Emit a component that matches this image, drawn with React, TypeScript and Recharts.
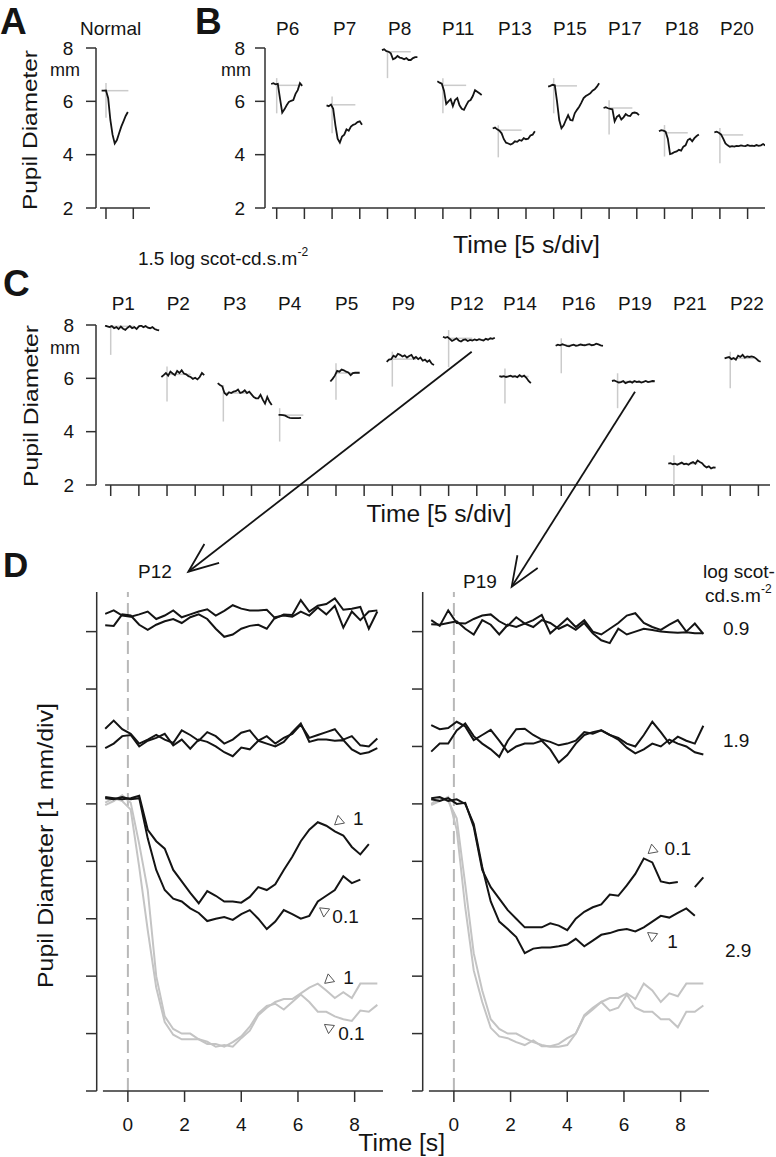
import React from 'react';
import { LineChart, Line, XAxis, YAxis, ReferenceLine, ReferenceDot } from 'recharts';

const FONT = "'Liberation Sans', Arial, Helvetica, sans-serif";
const INK = '#141414';
const AXIS = '#303030';
const GREY = '#c4c4c4';
const BAR_GREY = '#cbcbcb';

// ---- Panel A: normal subject, one sample every 0.4 s from -0.8 s
const A_TRACE = [6.40, 6.40, 6.41, 6.12, 5.30, 4.75, 4.42, 4.55, 4.80, 5.05, 5.25, 5.45, 5.60];
const A_BASE = [6.4];
const A_BAR_TOP = [6.69];
const A_BAR_BOTTOM = [5.38];

// ---- Panel B: one sample every 0.4 s from -1 s, one 10 s slot per patient
const B_LABELS = ['P6', 'P7', 'P8', 'P11', 'P13', 'P15', 'P17', 'P18', 'P20'];
const B_P6 = [6.65, 6.68, 6.64, 6.66, 6.10, 5.58, 5.70, 5.85, 5.98, 6.02, 6.05, 6.28, 6.42, 6.68, 6.58];
const B_P7 = [5.85, 5.82, 5.88, 5.72, 5.10, 4.60, 4.45, 4.68, 4.75, 4.95, 4.90, 5.05, 5.12, 5.15, 5.22, 5.25, 5.12];
const B_P8 = [7.92, 7.95, 7.88, 7.86, 7.80, 7.58, 7.62, 7.70, 7.64, 7.62, 7.58, 7.62, 7.55, 7.55, 7.62, 7.66, 7.66];
const B_P11 = [6.75, 6.70, 6.66, 6.40, 5.90, 6.00, 6.08, 5.82, 6.05, 6.12, 5.85, 5.72, 5.68, 5.85, 6.00, 6.05, 6.20, 6.42, 6.36, 6.30, 6.24];
const B_P13 = [4.98, 5.02, 4.95, 4.90, 4.80, 4.58, 4.45, 4.42, 4.38, 4.42, 4.50, 4.48, 4.55, 4.52, 4.62, 4.58, 4.60, 4.72, 4.75, 4.88];
const B_P15 = [6.55, 6.58, 6.62, 6.60, 6.00, 5.30, 4.99, 5.10, 5.30, 5.48, 5.30, 5.28, 5.55, 5.68, 5.80, 5.95, 6.12, 6.20, 6.25, 6.30, 6.40, 6.45, 6.55, 6.68];
const B_P17 = [5.75, 5.78, 5.74, 5.72, 5.70, 5.25, 5.42, 5.48, 5.32, 5.40, 5.52, 5.46, 5.45, 5.56, 5.58, 5.56, 5.48];
const B_P18 = [4.88, 4.92, 4.90, 4.86, 4.60, 4.02, 4.05, 4.10, 4.12, 4.18, 4.15, 4.30, 4.35, 4.55, 4.60, 4.50, 4.62, 4.70, 4.76];
const B_P20 = [4.84, 4.86, 4.82, 4.76, 4.60, 4.42, 4.35, 4.30, 4.32, 4.30, 4.33, 4.32, 4.35, 4.33, 4.32, 4.36, 4.33, 4.34, 4.32, 4.36, 4.33, 4.35, 4.40, 4.34];
const B_TRACES = [B_P6, B_P7, B_P8, B_P11, B_P13, B_P15, B_P17, B_P18, B_P20];
const B_BASE = [6.6, 5.87, 7.86, 6.6, 4.92, 6.58, 5.75, 4.82, 4.74];
const B_BAR_TOP = [6.87, 6.18, 7.9, 6.87, 5.1, 6.87, 6.04, 5.11, 5.0];
const B_BAR_BOTTOM = [5.55, 4.8, 6.87, 5.55, 3.9, 5.55, 4.76, 3.93, 3.68];

// ---- Panel C: same sampling
const C_LABELS = ['P1', 'P2', 'P3', 'P4', 'P5', 'P9', 'P12', 'P14', 'P16', 'P19', 'P21', 'P22'];
const C_P1 = [7.98, 7.95, 7.92, 7.96, 7.88, 7.92, 7.85, 7.94, 7.86, 7.82, 7.90, 7.96, 7.88, 7.92, 7.85, 7.95, 7.98, 7.92, 7.96, 7.90, 7.88, 7.92, 7.85, 7.82, 7.80];
const C_P2 = [6.05, 6.12, 6.20, 6.10, 6.25, 6.18, 6.12, 6.28, 6.20, 6.30, 6.18, 6.15, 6.08, 6.05, 5.98, 6.02, 5.96, 6.05, 6.20, 6.12];
const C_P3 = [5.82, 5.75, 5.70, 5.45, 5.38, 5.48, 5.45, 5.50, 5.52, 5.58, 5.45, 5.48, 5.55, 5.45, 5.50, 5.40, 5.30, 5.25, 5.25, 5.38, 5.20, 5.05, 5.30, 5.12, 5.00];
const C_P4 = [null, null, 4.63, 4.63, 4.62, 4.60, 4.55, 4.52, 4.51, 4.51, 4.51, 4.51, 4.52];
const C_P5 = [5.88, 5.98, 6.10, 6.28, 6.25, 6.33, 6.30, 6.25, 6.22, 6.12, 6.20, 6.21, 6.21, 6.21];
const C_P9 = [6.62, 6.70, 6.72, 6.85, 6.80, 6.92, 6.88, 6.82, 6.86, 6.78, 6.84, 6.88, 6.74, 6.80, 6.72, 6.78, 6.66, 6.70, 6.62, 6.68, 6.55, 6.50];
const C_P12 = [7.56, 7.52, 7.55, 7.48, 7.40, 7.45, 7.50, 7.42, 7.38, 7.44, 7.46, 7.40, 7.44, 7.42, 7.46, 7.43, 7.47, 7.44, 7.42, 7.48, 7.45, 7.50, 7.48, 7.52];
const C_P14 = [6.08, 6.06, 6.08, 6.05, 6.07, 6.10, 6.06, 6.08, 6.04, 6.12, 6.06, 6.10, 6.02, 5.90, 5.82];
const C_P16 = [7.22, 7.26, 7.24, 7.28, 7.25, 7.22, 7.20, 7.24, 7.26, 7.22, 7.24, 7.27, 7.25, 7.24, 7.26, 7.28, 7.24, 7.25, 7.30, 7.27, 7.24, 7.22];
const C_P19 = [5.90, 5.92, 5.88, 5.84, 5.86, 5.90, 5.82, 5.86, 5.88, 5.84, 5.90, 5.86, 5.88, 5.84, 5.87, 5.90, 5.86, 5.88, 5.90, 5.89];
const C_P21 = [2.80, 2.82, 2.78, 2.80, 2.76, 2.80, 2.84, 2.78, 2.80, 2.76, 2.82, 2.86, 2.80, 2.92, 2.86, 2.82, 2.72, 2.66, 2.70, 2.62, 2.66, 2.65];
const C_P22 = [6.75, 6.78, 6.80, 6.72, 6.76, 6.70, 6.85, 6.80, 6.88, 6.78, 6.82, 6.80, 6.82, 6.80, 6.74, 6.66, 6.62];
const C_TRACES = [C_P1, C_P2, C_P3, C_P4, C_P5, C_P9, C_P12, C_P14, C_P16, C_P19, C_P21, C_P22];
const C_BASE = [7.95, 6.15, 5.45, 4.62, 6.2, 6.72, 7.5, 6.07, 7.24, 5.88, 2.8, 6.75];
const C_BAR_TOP = [8.0, 6.44, 5.75, 4.88, 6.57, 7.0, 7.81, 6.37, 7.5, 6.19, 3.12, 7.0];
const C_BAR_BOTTOM = [6.88, 5.13, 4.38, 3.63, 5.2, 5.69, 6.42, 5.06, 6.19, 4.88, 2.0, 5.63];

// ---- Panel D: time base (s) and traces (mm, 1 mm per division)
const D_TIME = [-0.8, -0.5, -0.2, 0.1, 0.4, 0.7, 1.0, 1.3, 1.6, 1.9, 2.2, 2.5, 2.8, 3.1, 3.4, 3.7, 4.0, 4.3, 4.6, 4.9, 5.2, 5.5, 5.8, 6.1, 6.4, 6.7, 7.0, 7.3, 7.6, 7.9, 8.2, 8.5, 8.8];

const P12_09A = [8.31, 8.37, 8.28, 8.26, 8.30, 8.35, 8.22, 8.28, 8.37, 8.25, 8.30, 8.35, 8.39, 8.28, 8.36, 8.46, 8.40, 8.37, 8.37, 8.38, 8.23, 8.30, 8.29, 8.55, 8.35, 8.45, 8.48, 8.58, 8.38, 8.40, 8.43, 8.05, 8.35];
const P12_09B = [8.11, 8.10, 8.30, 8.28, 8.12, 8.03, 8.12, 8.18, 8.22, 8.15, 8.25, 8.30, 8.22, 8.05, 7.91, 7.95, 8.05, 8.10, 8.12, 8.05, 8.25, 8.28, 8.26, 8.35, 8.28, 8.42, 8.30, 8.45, 8.07, 8.35, 8.20, 8.35, 8.37];
const P12_19A = [6.31, 6.45, 6.30, 6.22, 6.05, 6.12, 6.20, 6.12, 6.06, 6.28, 6.20, 6.10, 6.25, 6.18, 6.05, 6.12, 6.24, 6.28, 6.10, 6.18, 6.05, 6.15, 6.22, 6.38, 6.15, 6.20, 6.25, 6.30, 6.12, 6.18, 6.02, 6.00, 6.14];
const P12_19B = [5.97, 6.05, 6.18, 6.20, 6.00, 6.10, 6.15, 6.22, 6.02, 6.12, 5.96, 6.12, 6.08, 6.00, 5.90, 5.83, 5.98, 5.95, 6.10, 6.05, 6.00, 6.08, 6.25, 6.40, 6.08, 6.12, 6.12, 6.10, 6.11, 5.95, 5.87, 5.90, 5.97];
const P12_29_1 = [5.12, 5.10, 5.08, 5.10, 5.14, 4.55, 4.35, 4.22, 3.85, 3.65, 3.45, 3.27, 3.48, 3.40, 3.30, 3.30, 3.28, 3.38, 3.55, 3.50, 3.60, 3.85, 4.08, 4.35, 4.55, 4.68, 4.62, 4.52, 4.45, 4.25, 4.12, 4.30, null];
const P12_29_01 = [5.10, 5.08, 5.12, 5.08, 5.10, 4.40, 3.85, 3.50, 3.35, 3.30, 3.18, 3.10, 2.96, 3.00, 3.03, 2.98, 3.08, 3.15, 3.00, 2.82, 2.95, 3.15, 3.08, 3.00, 3.05, 3.30, 3.40, 3.50, 3.74, 3.62, 3.68, null, null];
const P12_GREY_1 = [4.98, 5.05, 5.15, 5.02, 4.30, 3.50, 2.00, 1.30, 1.08, 1.00, 1.00, 0.90, 0.86, 0.77, 0.80, 0.77, 0.92, 1.05, 1.32, 1.45, 1.55, 1.60, 1.60, 1.70, 1.80, 1.87, 1.75, 1.62, 1.72, 1.62, 1.87, 1.87, 1.87];
const P12_GREY_01 = [5.02, 5.10, 5.05, 4.90, 3.90, 2.80, 1.80, 1.20, 0.98, 0.90, 0.90, 0.90, 0.82, 0.82, 0.77, 0.85, 0.95, 1.12, 1.35, 1.48, 1.52, 1.42, 1.55, 1.68, 1.55, 1.38, 1.38, 1.30, 1.25, 1.22, 1.40, 1.38, 1.50];

const P19_09A = [8.20, 8.10, 8.37, 8.15, 8.14, 8.22, 8.28, 8.30, 8.18, 8.10, 8.25, 8.14, 8.20, 8.29, 7.97, 8.10, 8.23, 8.08, 8.20, 8.00, 7.95, 8.05, 8.15, 8.28, 8.32, 8.15, 8.08, 8.03, 8.12, 8.20, 8.00, 8.14, 7.96];
const P19_09B = [8.13, 8.12, 8.15, 8.18, 8.05, 7.95, 8.20, 8.12, 7.95, 8.12, 8.08, 8.14, 8.08, 8.20, 8.15, 8.05, 8.12, 8.03, 8.15, 7.97, 7.85, 7.80, 8.05, 7.95, 8.00, 8.05, 8.03, 8.00, 7.99, 7.98, 7.99, 7.97, 7.97];
const P19_19A = [6.37, 6.30, 6.32, 6.43, 6.35, 6.11, 6.20, 6.29, 6.10, 5.90, 6.00, 6.05, 6.05, 6.10, 5.95, 5.72, 5.85, 6.05, 6.20, 6.25, 6.28, 6.20, 6.15, 6.05, 6.00, 6.20, 6.43, 6.25, 6.05, 6.17, 6.10, 6.05, 6.36];
const P19_19B = [5.91, 6.05, 6.05, 6.28, 6.40, 6.18, 6.05, 5.95, 5.82, 6.10, 6.30, 6.31, 6.20, 6.12, 6.08, 6.02, 6.05, 6.10, 6.25, 6.22, 6.28, 6.20, 6.12, 5.98, 5.88, 5.95, 6.05, 6.00, 6.12, 6.05, 6.00, 5.90, 5.86];
const P19_29_01 = [5.08, 5.05, 5.10, 5.00, 5.02, 4.60, 3.85, 3.55, 3.35, 3.15, 3.00, 2.85, 2.85, 2.85, 2.92, 2.88, 2.80, 3.00, 3.12, 3.20, 3.25, 3.42, 3.40, 3.58, 3.78, 4.05, 3.98, 3.65, 3.62, 3.64, null, 3.55, 3.72];
const P19_29_1 = [5.10, 5.12, 5.05, 5.08, 5.00, 4.65, 3.90, 3.30, 2.95, 2.82, 2.68, 2.40, 2.48, 2.50, 2.50, 2.52, 2.55, 2.65, 2.52, 2.62, 2.72, 2.75, 2.80, 2.82, 2.78, 2.85, 2.95, 3.05, 3.02, 3.10, 3.18, 3.05, null];
const P19_GREY_A = [5.00, 5.10, 5.05, 4.75, 3.60, 2.40, 1.75, 1.25, 1.08, 1.00, 1.00, 0.92, 0.85, 0.80, 0.77, 0.77, 0.80, 1.00, 1.32, 1.45, 1.55, 1.62, 1.62, 1.70, 1.60, 1.87, 1.75, 1.55, 1.70, 1.65, 1.87, 1.87, 1.87];
const P19_GREY_B = [4.98, 5.05, 5.12, 4.55, 3.20, 2.10, 1.55, 1.10, 0.95, 0.92, 0.85, 0.80, 0.88, 0.78, 0.78, 0.82, 0.92, 1.00, 1.30, 1.42, 1.55, 1.40, 1.45, 1.68, 1.45, 1.38, 1.38, 1.25, 1.25, 1.11, 1.38, 1.38, 1.49];

const D_LEFT = [
  { vals: P12_GREY_1, color: GREY },
  { vals: P12_GREY_01, color: GREY },
  { vals: P12_09A, color: INK },
  { vals: P12_09B, color: INK },
  { vals: P12_19A, color: INK },
  { vals: P12_19B, color: INK },
  { vals: P12_29_1, color: INK },
  { vals: P12_29_01, color: INK },
];
const D_RIGHT = [
  { vals: P19_GREY_A, color: GREY },
  { vals: P19_GREY_B, color: GREY },
  { vals: P19_09A, color: INK },
  { vals: P19_09B, color: INK },
  { vals: P19_19A, color: INK },
  { vals: P19_19B, color: INK },
  { vals: P19_29_01, color: INK },
  { vals: P19_29_1, color: INK },
];

// flash-intensity markers (log scot-cd.s.m-2) next to the 2.9 traces
const NOTES_LEFT = [
  { t: 7.45, v: 4.70, label: '1', up: true, dx: 14, dy: 4 },
  { t: 6.93, v: 3.13, label: '0.1', up: false, dx: 8, dy: 12 },
  { t: 7.1, v: 1.94, label: '1', up: true, dx: 14, dy: 4 },
  { t: 7.1, v: 1.1, label: '0.1', up: false, dx: 9, dy: 12 },
];
const NOTES_RIGHT = [
  { t: 7.01, v: 4.20, label: '0.1', up: true, dx: 12, dy: 5 },
  { t: 7.0, v: 2.70, label: '1', up: false, dx: 15, dy: 12 },
];

const STEP = 0.4;
const toRows = (vals: (number | null)[], start: number, offset: number) =>
  vals.map((v, i) => ({ t: Math.round((offset + start + i * STEP) * 100) / 100, v }));

const barRows = (base: number[], top: number[], bottom: number[], len: number) => {
  const out: { t: number; v: number }[][] = [];
  base.forEach((b, i) => {
    const off = i * 10;
    out.push([{ t: off, v: top[i] }, { t: off, v: bottom[i] }]);
    out.push([{ t: off, v: b }, { t: off + len, v: b }]);
  });
  return out;
};

const axisStroke = { stroke: AXIS, strokeWidth: 1.5 };

const YTick = (p: any) => (
  <text x={p.x} y={p.y} dy="0.355em" textAnchor="end" fontSize={19} fontFamily={FONT} fill={INK}>
    {p.payload.value}
  </text>
);
const XTick = (p: any) => (
  <text x={p.x} y={p.y} dy="0.71em" textAnchor="middle" fontSize={19} fontFamily={FONT} fill={INK}>
    {p.payload.value}
  </text>
);
const NoTick = () => <g />;

function StripChart({ left, top, width, yWidth, right, xDomain, xTicks, axisFrom, traces, bars, tickMargin }: any) {
  return (
    <div style={{ position: 'absolute', left, top }}>
      <LineChart width={width} height={240} margin={{ top: 48, right, bottom: 2, left: 0 }}>
        <XAxis type="number" dataKey="t" domain={xDomain} ticks={xTicks} allowDataOverflow interval={0}
          axisLine={false} tickSize={11} tickLine={axisStroke} tick={NoTick} height={30} />
        <YAxis type="number" domain={[2, 8]} ticks={[2, 4, 6, 8]} allowDataOverflow interval={0}
          width={yWidth} tickSize={10} tickMargin={tickMargin} axisLine={axisStroke} tickLine={axisStroke}
          tick={YTick} />
        <ReferenceLine segment={[{ x: axisFrom, y: 2 }, { x: xDomain[1], y: 2 }]} stroke={AXIS} strokeWidth={1.5} ifOverflow="visible" />
        {bars.map((rows: any, i: number) => (
          <Line key={'bar' + i} data={rows} dataKey="v" type="linear" dot={false} activeDot={false}
            stroke={BAR_GREY} strokeWidth={1.5} isAnimationActive={false} />
        ))}
        {traces.map((rows: any, i: number) => (
          <Line key={'tr' + i} data={rows} dataKey="v" type="linear" dot={false} activeDot={false}
            stroke={INK} strokeWidth={1.8} isAnimationActive={false} />
        ))}
      </LineChart>
    </div>
  );
}

function Marker({ cx, cy, up, label, dx, dy }: any) {
  if (cx == null || cy == null) return null;
  const angles = up ? [-100, 20, 140] : [96, 216, -24];
  const r = 5.8;
  const pts = angles
    .map((d) => {
      const a = (d * Math.PI) / 180;
      return `${cx + r * Math.cos(a)},${cy + r * Math.sin(a)}`;
    })
    .join(' ');
  return (
    <g>
      <polygon points={pts} fill="#fff" stroke="#555" strokeWidth={1} />
      <text x={cx + dx} y={cy + dy} fontSize={19} fontFamily={FONT} fill={INK}>{label}</text>
    </g>
  );
}

function DetailChart({ left, series, notes }: any) {
  return (
    <div style={{ position: 'absolute', left, top: 560 }}>
      <LineChart width={383} height={581} margin={{ top: 32, right: 0, bottom: 0, left: 0 }}>
        <XAxis type="number" dataKey="t" domain={[-1.1, 9]} ticks={[0, 2, 4, 6, 8]} allowDataOverflow interval={0}
          axisLine={false} tickSize={11} tickMargin={16} height={50} tickLine={axisStroke} tick={XTick} />
        <YAxis type="number" domain={[0, 8.69]} ticks={[0, 1, 2, 3, 4, 5, 6, 7, 8]} allowDataOverflow interval={0}
          width={96.7} tickSize={10.7} axisLine={axisStroke} tickLine={axisStroke} tick={NoTick} />
        <ReferenceLine x={0} stroke="#b8b8b8" strokeWidth={2} strokeDasharray="13 6" />
        <ReferenceLine segment={[{ x: -0.88, y: 0 }, { x: 9, y: 0 }]} stroke={AXIS} strokeWidth={1.5} ifOverflow="visible" />
        {series.map((s: any, i: number) => (
          <Line key={'d' + i} data={s.vals.map((v: number | null, j: number) => ({ t: D_TIME[j], v }))}
            dataKey="v" type="linear" dot={false} activeDot={false} stroke={s.color} strokeWidth={2}
            isAnimationActive={false} />
        ))}
        {notes.map((n: any, i: number) => (
          <ReferenceDot key={'n' + i} x={n.t} y={n.v} r={0} ifOverflow="visible"
            shape={(p: any) => <Marker cx={p.cx} cy={p.cy} up={n.up} label={n.label} dx={n.dx} dy={n.dy} />} />
        ))}
      </LineChart>
    </div>
  );
}

const B_LABEL_X = [276, 333, 388, 442, 498, 553, 608, 665, 720];
const C_LABEL_X = [111.7, 166.7, 223, 278, 335, 391.7, 450, 503, 561.7, 618, 673, 730];

function arrow(x1: number, y1: number, x2: number, y2: number) {
  const len = Math.hypot(x2 - x1, y2 - y1);
  const bx = (x1 - x2) / len, by = (y1 - y2) / len;
  const rot = (ang: number) => {
    const a = (ang * Math.PI) / 180;
    return [x2 + 32 * (bx * Math.cos(a) - by * Math.sin(a)), y2 + 32 * (bx * Math.sin(a) + by * Math.cos(a))];
  };
  const p1 = rot(22), p2 = rot(-22);
  return (
    <g stroke={INK} strokeWidth={1.8} fill="none">
      <line x1={x1} y1={y1} x2={x2} y2={y2} />
      <polyline points={`${p1[0]},${p1[1]} ${x2},${y2} ${p2[0]},${p2[1]}`} />
    </g>
  );
}

export default function App() {
  const aTraces = [toRows(A_TRACE, -0.8, 0)];
  const aBars = barRows(A_BASE, A_BAR_TOP, A_BAR_BOTTOM, 4.1);
  const bTraces = B_TRACES.map((vals, i) => toRows(vals, -1, i * 10));
  const bBars = barRows(B_BASE, B_BAR_TOP, B_BAR_BOTTOM, 4.2);
  const cTraces = C_TRACES.map((vals, i) => toRows(vals, -1, i * 10));
  const cBars = barRows(C_BASE, C_BAR_TOP, C_BAR_BOTTOM, 4.2);

  return (
    <div style={{ position: 'absolute', left: 0, top: 0, width: 776, height: 1157, background: '#fff', fontFamily: FONT }}>
      <StripChart left={0} top={0} width={160} yWidth={96} right={10} xDomain={[-1.83, 8.06]} xTicks={[0, 5]}
        axisFrom={-1.1} traces={aTraces} bars={aBars} tickMargin={12.7} />
      <StripChart left={200} top={0} width={576} yWidth={65} right={11} xDomain={[-2.11, 88.14]}
        xTicks={[0, 5, 10, 15, 20, 25, 30, 35, 40, 45, 50, 55, 60, 65, 70, 75, 80, 85]}
        axisFrom={-0.85} traces={bTraces} bars={bBars} tickMargin={10} />
      <StripChart left={0} top={277} width={776} yWidth={96} right={6} xDomain={[-2.61, 117.06]}
        xTicks={[0, 5, 10, 15, 20, 25, 30, 35, 40, 45, 50, 55, 60, 65, 70, 75, 80, 85, 90, 95, 100, 105, 110, 115]}
        axisFrom={-0.99} traces={cTraces} bars={cBars} tickMargin={12} />
      <DetailChart left={0} series={D_LEFT} notes={NOTES_LEFT} />
      <DetailChart left={326} series={D_RIGHT} notes={NOTES_RIGHT} />

      <svg width={776} height={1157} style={{ position: 'absolute', left: 0, top: 0, pointerEvents: 'none' }}
        fontFamily={FONT} fill={INK}>
        <text x={0} y={34} fontSize={37} fontWeight="bold">A</text>
        <text x={195} y={34} fontSize={37} fontWeight="bold">B</text>
        <text x={3} y={296} fontSize={37} fontWeight="bold">C</text>
        <text x={3} y={577} fontSize={35} fontWeight="bold">D</text>

        <text x={80} y={35} fontSize={19}>Normal</text>
        {B_LABELS.map((l, i) => <text key={l} x={B_LABEL_X[i]} y={35} fontSize={19}>{l}</text>)}
        <text x={65} y={76} fontSize={18} textAnchor="middle">mm</text>
        <text x={236} y={76} fontSize={18} textAnchor="middle">mm</text>
        <text transform="translate(36.5,130) rotate(-90)" fontSize={21} textAnchor="middle"
          textLength={160} lengthAdjust="spacingAndGlyphs">Pupil Diameter</text>
        <text x={526.5} y={253} fontSize={23} textAnchor="middle" textLength={147} lengthAdjust="spacingAndGlyphs">Time [5 s/div]</text>

        <text x={138} y={265} fontSize={19}>1.5 log scot-cd.s.m<tspan dy={-9} fontSize={12}>-2</tspan></text>
        {C_LABELS.map((l, i) => <text key={l} x={C_LABEL_X[i]} y={310} fontSize={19}>{l}</text>)}
        <text x={65} y={354} fontSize={18} textAnchor="middle">mm</text>
        <text transform="translate(37.5,406) rotate(-90)" fontSize={21} textAnchor="middle"
          textLength={162} lengthAdjust="spacingAndGlyphs">Pupil Diameter</text>
        <text x={439} y={522} fontSize={23} textAnchor="middle" textLength={145} lengthAdjust="spacingAndGlyphs">Time [5 s/div]</text>

        <text x={138} y={578} fontSize={19}>P12</text>
        <text x={463} y={588} fontSize={19}>P19</text>
        <text x={703} y={578} fontSize={19}>log scot-</text>
        <text x={705} y={601.7} fontSize={19}>cd.s.m<tspan dy={-9} fontSize={12}>-2</tspan></text>
        <text x={723} y={635} fontSize={19}>0.9</text>
        <text x={723} y={746.7} fontSize={19}>1.9</text>
        <text x={725} y={956.7} fontSize={19}>2.9</text>
        <text transform="translate(53,845.5) rotate(-90)" fontSize={22} textAnchor="middle"
          textLength={285} lengthAdjust="spacingAndGlyphs">Pupil Diameter [1 mm/div]</text>
        <text x={401.7} y={1151} fontSize={23} textAnchor="middle" textLength={86.7} lengthAdjust="spacingAndGlyphs">Time [s]</text>

        {arrow(471.7, 351.7, 188.3, 571.7)}
        {arrow(635, 391.7, 511.7, 586.7)}
      </svg>
    </div>
  );
}
